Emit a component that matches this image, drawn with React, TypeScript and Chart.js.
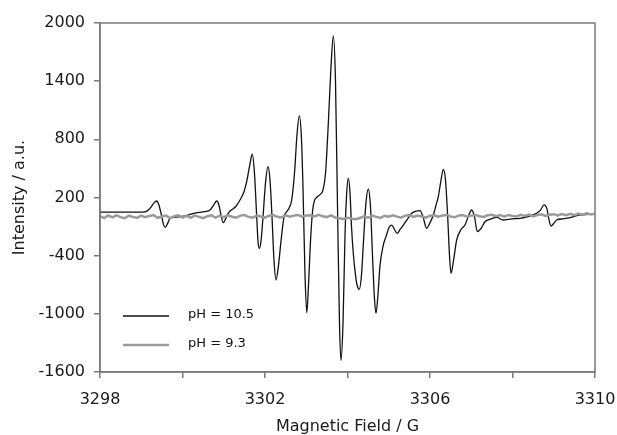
import React, { useEffect, useRef } from "react";
import { Chart, registerables } from "chart.js";

Chart.register(...registerables);

// Magnetic field (G) sample positions for the pH = 10.5 spectrum
const FIELD_HIGH_PH = [
  3298.0, 3299.042, 3299.139, 3299.236, 3299.309, 3299.375, 3299.43, 3299.496, 3299.539, 3299.583,
  3299.636, 3299.697, 3299.818, 3300.061, 3300.303, 3300.545, 3300.667, 3300.739, 3300.829, 3300.885,
  3300.933, 3300.989, 3301.055, 3301.127, 3301.2, 3301.297, 3301.394, 3301.491, 3301.556, 3301.624,
  3301.692, 3301.745, 3301.799, 3301.83, 3301.862, 3301.903, 3301.952, 3302.012, 3302.073, 3302.121,
  3302.17, 3302.218, 3302.267, 3302.327, 3302.388, 3302.461, 3302.526, 3302.582, 3302.647, 3302.715,
  3302.776, 3302.832, 3302.885, 3302.921, 3302.97, 3303.013, 3303.055, 3303.103, 3303.156, 3303.2,
  3303.253, 3303.333, 3303.399, 3303.467, 3303.539, 3303.6, 3303.656, 3303.709, 3303.758, 3303.806,
  3303.842, 3303.891, 3303.939, 3303.981, 3304.019, 3304.061, 3304.097, 3304.141, 3304.194, 3304.23,
  3304.286, 3304.339, 3304.388, 3304.448, 3304.504, 3304.558, 3304.606, 3304.655, 3304.691, 3304.739,
  3304.788, 3304.868, 3304.933, 3305.006, 3305.072, 3305.139, 3305.207, 3305.273, 3305.353, 3305.442,
  3305.556, 3305.661, 3305.758, 3305.83, 3305.92, 3306.0, 3306.081, 3306.145, 3306.201, 3306.267,
  3306.322, 3306.376, 3306.429, 3306.473, 3306.509, 3306.57, 3306.647, 3306.752, 3306.848, 3306.933,
  3307.011, 3307.079, 3307.147, 3307.236, 3307.333, 3307.479, 3307.624, 3307.77, 3307.988, 3308.182,
  3308.352, 3308.497, 3308.594, 3308.679, 3308.764, 3308.836, 3308.885, 3308.933, 3308.994, 3309.071,
  3309.224, 3309.394, 3309.636, 3309.83, 3310.0,
];

// Intensity (a.u.) for pH = 10.5
const INTENSITY_HIGH_PH = [
  50, 50, 60, 100, 145, 164, 120, 5, -80, -107,
  -70, -15, -5, 10, 40, 55, 70, 110, 164, 120,
  20, -60, -10, 50, 75, 110, 174, 260, 363, 520,
  646, 450, 0, -250, -324, -250, 0, 350, 518, 380,
  0, -450, -651, -500, -250, 0, 54, 90, 174, 450,
  850, 1041, 800, 300, -600, -990, -700, -250, 71, 170,
  200, 230, 270, 450, 1000, 1550, 1866, 1400, 100, -1100,
  -1480, -1100, -200, 250, 400, 250, -100, -380, -600, -700,
  -747, -600, -250, 150, 285, 100, -400, -850, -995, -800,
  -500, -290, -204, -110, -84, -130, -170, -130, -84, -30,
  37, 60, 64, 0, -118, -60, 20, 120, 208, 380,
  491, 380, 0, -400, -582, -450, -238, -130, -84, 10,
  71, 0, -153, -120, -50, -20, -5, -32, -20, -15,
  0, 20, 40, 70, 123, 80, -30, -94, -70, -32,
  -20, -8, 20, 25, 27,
];

// pH = 9.3 spectrum: sampled every 0.1 G from 3298 G
const FIELD_LOW_PH_START = 3298;
const FIELD_LOW_PH_STEP = 0.1;
const INTENSITY_LOW_PH = [
  8, -12, 14, -6, 16, -2, -14, 12, 0, -10, 14,
  -4, 10, 18, -9, 5, 13, -12, 6, 16, -8,
  11, -10, 14, 0, -13, 7, 17, -7, 12, -2,
  15, 2, -9, 13, 19, 0, -8, 14, 4, -7,
  12, 18, 1, -6, 16, 3, 13, 20, 2, 14,
  17, 4, 22, 6, -2, 16, -6, -14, -22, -9,
  -18, -24, -11, 6, -9, 14, 0, -10, 12, 1,
  16, 3, -8, 13, 18, 0, 14, 4, -7, 12,
  17, 2, 14, 20, 4, -4, 15, 18, 3, 13,
  19, 6, 0, 16, 22, 7, 18, 3, 20, 9,
  4, 21, 10, 24, 6, 19, 26, 11, 22, 28,
  14, 29, 18, 32, 17, 34, 22, 36, 24, 32,
];

const SERIES_LABELS = ["pH = 10.5", "pH = 9.3"];
const X_TICKS = [3298, 3300, 3302, 3304, 3306, 3308, 3310];
const X_LABELED = [3298, 3302, 3306, 3310];
const Y_TICKS = [-1600, -1000, -400, 200, 800, 1400, 2000];

const FONT = "'DejaVu Sans', sans-serif";
const AXIS_GRAY = "#7a7a7a";

const framePlugin = {
  id: "frameAndLegend",
  afterDatasetsDraw(chart: any) {
    const { ctx, chartArea } = chart;
    const { left, top, right, bottom } = chartArea;
    ctx.save();
    ctx.strokeStyle = AXIS_GRAY;
    ctx.lineWidth = 1.5;
    ctx.strokeRect(left, top, right - left, bottom - top);

    // legend inside plot area (lower left)
    const rows = [
      { ds: chart.data.datasets[0], y: bottom - 56 },
      { ds: chart.data.datasets[1], y: bottom - 27 },
    ];
    ctx.font = `13px ${FONT}`;
    ctx.textBaseline = "middle";
    ctx.textAlign = "left";
    for (const r of rows) {
      ctx.beginPath();
      ctx.strokeStyle = r.ds.borderColor;
      ctx.lineWidth = r.ds.borderWidth;
      ctx.moveTo(left + 23, r.y);
      ctx.lineTo(left + 69, r.y);
      ctx.stroke();
      ctx.fillStyle = "#111";
      ctx.fillText(r.ds.label, left + 88, r.y - 1);
    }
    ctx.restore();
  },
};

export default function App() {
  const canvasRef = useRef<HTMLCanvasElement | null>(null);

  useEffect(() => {
    const canvas = canvasRef.current;
    if (!canvas) return;

    const highData = FIELD_HIGH_PH.map((x, i) => ({ x, y: INTENSITY_HIGH_PH[i] }));
    const lowData = INTENSITY_LOW_PH.map((y, i) => ({
      x: FIELD_LOW_PH_START + i * FIELD_LOW_PH_STEP,
      y,
    }));

    const chart = new Chart(canvas, {
      type: "line",
      data: {
        datasets: [
          {
            label: SERIES_LABELS[0],
            data: highData,
            borderColor: "#111111",
            borderWidth: 1.3,
            pointRadius: 0,
            cubicInterpolationMode: "monotone",
            fill: false,
            order: 1,
          },
          {
            label: SERIES_LABELS[1],
            data: lowData,
            borderColor: "#9a9a9a",
            borderWidth: 2.5,
            pointRadius: 0,
            tension: 0,
            fill: false,
            order: 0,
          },
        ],
      },
      options: {
        responsive: false,
        animation: false,
        events: [],
        layout: { padding: { left: 0, top: 23, right: 22, bottom: 0 } },
        plugins: {
          legend: { display: false },
          tooltip: { enabled: false },
          title: { display: false },
        },
        scales: {
          x: {
            type: "linear",
            min: 3298,
            max: 3310,
            afterBuildTicks: (scale: any) => {
              scale.ticks = X_TICKS.map((v) => ({ value: v }));
            },
            afterFit: (scale: any) => {
              scale.height = 63;
              scale.paddingLeft = 0;
              scale.paddingRight = 0;
            },
            ticks: {
              autoSkip: false,
              maxRotation: 0,
              padding: 12,
              color: "#1a1a1a",
              font: { family: FONT, size: 16 },
              callback: (v: any) => (X_LABELED.includes(Number(v)) ? String(v) : ""),
            },
            grid: {
              display: true,
              drawOnChartArea: false,
              drawTicks: true,
              tickLength: 6,
              color: AXIS_GRAY,
              lineWidth: 1.5,
            },
            border: { display: true, color: AXIS_GRAY, width: 1.5 },
            title: {
              display: true,
              text: "Magnetic Field / G",
              color: "#1a1a1a",
              font: { family: FONT, size: 16 },
              padding: { top: 0, bottom: -1 },
            },
          },
          y: {
            type: "linear",
            min: -1600,
            max: 2000,
            afterBuildTicks: (scale: any) => {
              scale.ticks = Y_TICKS.map((v) => ({ value: v }));
            },
            afterFit: (scale: any) => {
              scale.width = 100;
              scale.paddingTop = 0;
              scale.paddingBottom = 0;
            },
            ticks: {
              autoSkip: false,
              padding: 9,
              color: "#1a1a1a",
              font: { family: FONT, size: 16 },
              callback: (v: any) => String(v),
            },
            grid: {
              display: true,
              drawOnChartArea: false,
              drawTicks: true,
              tickLength: 6,
              color: AXIS_GRAY,
              lineWidth: 1.5,
            },
            border: { display: true, color: AXIS_GRAY, width: 1.5 },
            title: {
              display: true,
              text: "Intensity / a.u.",
              color: "#1a1a1a",
              font: { family: FONT, size: 16 },
              padding: { top: 10, bottom: 0 },
            },
          },
        },
      },
      plugins: [framePlugin],
    });

    return () => chart.destroy();
  }, []);

  return (
    <div style={{ position: "fixed", left: 0, top: 0, width: 617, height: 435, background: "#fff" }}>
      <canvas ref={canvasRef} width={617} height={435} />
    </div>
  );
}
